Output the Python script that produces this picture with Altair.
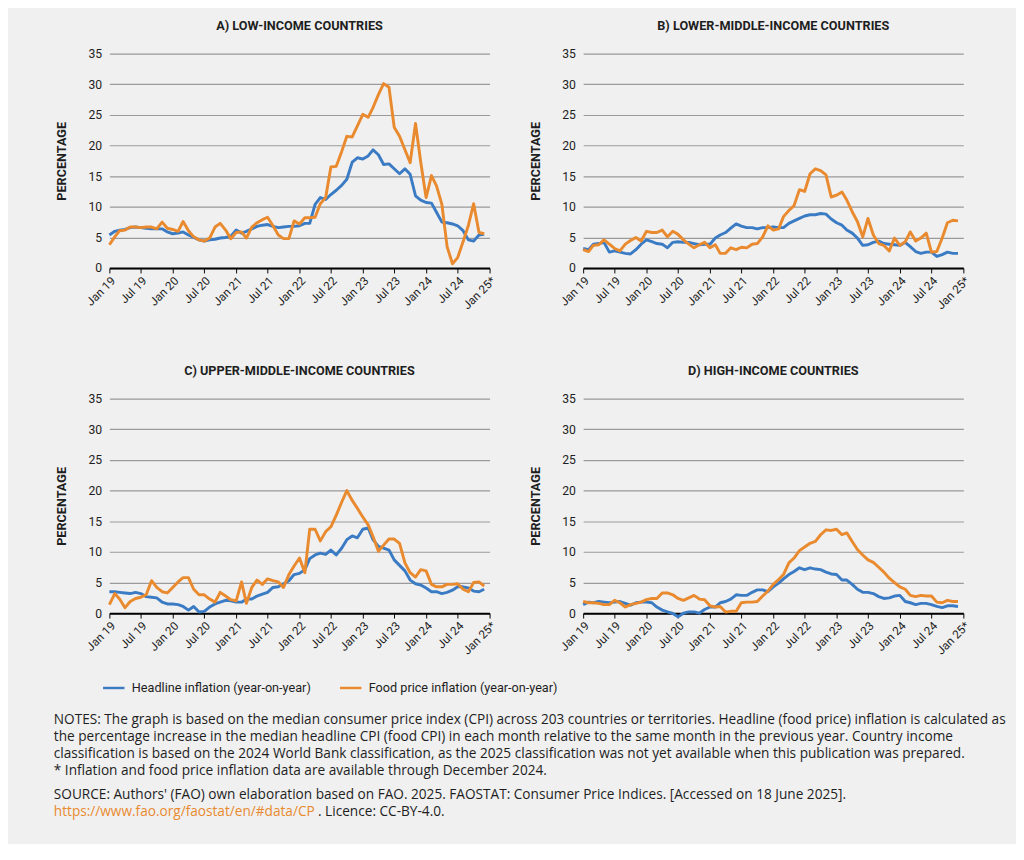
import altair as alt
import pandas as pd

# ---------------- data ----------------
months = pd.date_range("2019-01-01", "2024-12-01", freq="MS").strftime("%Y-%m-%d").tolist()

series_names = ["Headline inflation (year-on-year)", "Food price inflation (year-on-year)"]

panel_titles = [
    "A) LOW-INCOME COUNTRIES",
    "B) LOWER-MIDDLE-INCOME COUNTRIES",
    "C) UPPER-MIDDLE-INCOME COUNTRIES",
    "D) HIGH-INCOME COUNTRIES",
]

head_a = [5.4, 6.0, 6.2, 6.3, 6.6, 6.7, 6.6, 6.5, 6.4, 6.4, 6.4, 5.9,
          5.6, 5.7, 5.9, 5.4, 5.0, 4.6, 4.4, 4.6, 4.7, 4.9, 5.0, 5.2,
          6.2, 5.7, 6.0, 6.4, 6.8, 7.0, 7.1, 6.8, 6.6, 6.7, 6.8, 6.8,
          6.9, 7.3, 7.3, 10.4, 11.5, 11.2, 12.0, 12.7, 13.5, 14.5, 17.3, 18.0,
          17.8, 18.3, 19.3, 18.5, 16.9, 17.0, 16.2, 15.4, 16.2, 15.3, 11.8, 11.1,
          10.7, 10.6, 9.1, 7.5, 7.4, 7.2, 6.9, 6.1, 4.6, 4.4, 5.4, 5.5]
food_a = [3.8, 5.1, 6.1, 6.2, 6.7, 6.7, 6.6, 6.7, 6.7, 6.4, 7.5, 6.5,
          6.3, 6.0, 7.6, 6.1, 5.1, 4.6, 4.4, 4.9, 6.7, 7.3, 6.2, 4.8,
          5.8, 5.9, 4.9, 6.7, 7.4, 7.9, 8.3, 6.9, 5.4, 4.8, 4.8, 7.7,
          7.2, 8.2, 8.2, 8.3, 10.5, 11.5, 16.5, 16.6, 19.0, 21.5, 21.4, 23.2,
          25.1, 24.6, 26.2, 28.3, 30.1, 29.5, 23.0, 21.5, 19.3, 17.2, 23.6, 17.3,
          11.5, 15.1, 13.4, 10.4, 3.5, 0.7, 1.7, 4.3, 7.0, 10.5, 5.8, 5.6]

head_b = [3.2, 3.0, 3.9, 4.0, 4.2, 2.6, 2.8, 2.6, 2.4, 2.3, 3.0, 3.9,
          4.6, 4.3, 4.0, 3.9, 3.3, 4.2, 4.3, 4.2, 4.2, 4.0, 3.8, 3.9,
          3.9, 4.9, 5.4, 5.8, 6.5, 7.2, 6.85, 6.6, 6.6, 6.4, 6.6, 6.6,
          6.7, 6.6, 6.6, 7.3, 7.7, 8.1, 8.5, 8.7, 8.7, 8.9, 8.8, 8.0,
          7.4, 7.0, 6.2, 5.7, 4.9, 3.7, 3.8, 4.2, 4.4, 4.0, 3.9, 3.8,
          3.7, 4.2, 3.5, 2.7, 2.4, 2.6, 2.6, 1.9, 2.2, 2.6, 2.4, 2.4]
food_b = [3.0, 2.7, 3.7, 3.8, 4.6, 3.9, 3.2, 2.8, 3.9, 4.5, 5.0, 4.4,
          6.0, 5.8, 5.8, 6.2, 5.1, 6.0, 5.5, 4.6, 3.9, 3.3, 3.8, 4.2,
          3.3, 3.8, 2.4, 2.4, 3.3, 3.0, 3.4, 3.3, 3.9, 4.0, 5.1, 6.9,
          6.2, 6.4, 8.4, 9.4, 10.2, 12.8, 12.5, 15.4, 16.2, 15.9, 15.2, 11.6,
          11.9, 12.4, 11.1, 9.2, 7.6, 5.1, 8.1, 5.4, 4.0, 3.7, 2.8, 4.9,
          3.7, 4.3, 5.9, 4.4, 4.9, 5.7, 2.6, 2.7, 4.9, 7.4, 7.8, 7.7]

head_c = [3.5, 3.5, 3.4, 3.3, 3.2, 3.4, 3.2, 2.7, 2.6, 2.5, 1.8, 1.5,
          1.5, 1.4, 1.1, 0.5, 1.1, 0.2, 0.3, 1.0, 1.5, 1.8, 2.1, 2.0,
          1.8, 1.8, 2.3, 2.3, 2.8, 3.1, 3.4, 4.2, 4.3, 4.8, 5.3, 6.3,
          6.5, 7.1, 8.9, 9.5, 9.8, 9.6, 10.3, 9.5, 10.6, 12.0, 12.6, 12.3,
          13.7, 13.9, 12.0, 10.9, 10.6, 10.3, 8.7, 7.8, 6.9, 5.4, 4.8, 4.6,
          4.1, 3.5, 3.5, 3.2, 3.4, 3.75, 4.3, 4.3, 4.1, 3.6, 3.5, 3.9]
food_c = [1.4, 3.2, 2.3, 0.9, 1.9, 2.4, 2.6, 3.0, 5.3, 4.2, 3.5, 3.3,
          4.2, 5.1, 5.8, 5.8, 3.9, 3.0, 3.0, 2.3, 1.8, 3.4, 2.8, 2.2,
          2.0, 5.1, 1.6, 4.2, 5.4, 4.7, 5.6, 5.3, 5.1, 4.2, 6.3, 7.7,
          9.0, 6.6, 13.7, 13.7, 11.8, 13.3, 14.1, 16.0, 18.1, 20.0, 18.4, 17.1,
          15.7, 14.4, 12.5, 10.1, 11.1, 12.1, 12.1, 11.4, 8.2, 6.6, 5.9, 7.1,
          6.9, 4.7, 4.3, 4.3, 4.7, 4.7, 4.8, 3.9, 3.5, 5.0, 5.1, 4.4]

head_d = [1.4, 1.8, 1.7, 1.9, 1.8, 1.7, 1.8, 1.9, 1.6, 1.3, 1.7, 1.8,
          1.8, 1.7, 1.0, 0.5, 0.2, -0.05, -0.6, 0.0, 0.2, 0.2, 0.0, 0.6,
          1.0, 1.0, 1.7, 1.9, 2.3, 3.0, 2.9, 2.9, 3.4, 3.8, 3.8, 3.5,
          4.3, 4.9, 5.6, 6.3, 6.8, 7.4, 7.1, 7.4, 7.2, 7.1, 6.7, 6.4,
          6.3, 5.4, 5.4, 4.7, 3.9, 3.4, 3.4, 3.2, 2.7, 2.4, 2.5, 2.8,
          2.9, 1.9, 1.7, 1.4, 1.6, 1.6, 1.4, 1.1, 0.9, 1.2, 1.2, 1.1]
food_d = [1.9, 1.7, 1.7, 1.6, 1.4, 1.4, 2.1, 1.7, 1.0, 1.4, 1.6, 1.8,
          2.2, 2.4, 2.4, 3.3, 3.3, 3.0, 2.4, 2.1, 2.5, 2.9, 2.3, 2.2,
          1.2, 1.0, 1.1, 0.2, 0.3, 0.3, 1.7, 1.8, 1.8, 1.9, 2.8, 3.6,
          4.7, 5.5, 6.3, 8.2, 9.0, 10.2, 10.8, 11.4, 11.7, 12.8, 13.6, 13.5,
          13.7, 12.8, 13.1, 11.7, 10.4, 9.5, 8.7, 8.3, 7.5, 6.7, 5.7, 5.0,
          4.3, 3.9, 2.9, 2.7, 2.9, 2.8, 2.8, 1.8, 1.7, 2.1, 1.9, 1.9]

tick_years = [2019, 2019, 2020, 2020, 2021, 2021, 2022, 2022, 2023, 2023, 2024, 2024, 2025]
tick_months = [1, 7, 1, 7, 1, 7, 1, 7, 1, 7, 1, 7, 1]
y_ticks = [0, 5, 10, 15, 20, 25, 30, 35]

notes_lines = [
    "NOTES: The graph is based on the median consumer price index (CPI) across 203 countries or territories. Headline (food price) inflation is calculated as",
    "the percentage increase in the median headline CPI (food CPI) in each month relative to the same month in the previous year. Country income",
    "classification is based on the 2024 World Bank classification, as the 2025 classification was not yet available when this publication was prepared.",
    "* Inflation and food price inflation data are available through December 2024.",
]
source_line = "SOURCE: Authors' (FAO) own elaboration based on FAO. 2025. FAOSTAT: Consumer Price Indices. [Accessed on 18 June 2025]."
link_text = "https://www.fao.org/faostat/en/#data/CP"
licence_text = ". Licence: CC-BY-4.0."

# ---------------- style ----------------
BLUE = "#3a7bc4"
ORANGE = "#e98a2f"
BG = "#f0f0f0"
TXT = "#1e1e1e"
COND = "Roboto, sans-serif"
SANS = "Open Sans, Liberation Sans, sans-serif"
NOTE_SIZE = 14

PW, PH = 390, 220

tick_vals = [alt.DateTime(year=y, month=m, date=1, utc=True) for y, m in zip(tick_years, tick_months)]


def panel(title, head, food):
    df = pd.DataFrame({
        "date": months * 2,
        "series": [series_names[0]] * len(head) + [series_names[1]] * len(food),
        "value": head + food,
    })
    return alt.Chart(df).mark_line(strokeWidth=3, strokeJoin="round").encode(
        x=alt.X("date:T",
                scale=alt.Scale(type="utc",
                                domain=[alt.DateTime(year=2019, month=1, date=1, utc=True),
                                        alt.DateTime(year=2025, month=1, date=1, utc=True)]),
                axis=alt.Axis(values=tick_vals, title=None, grid=False,
                              labelExpr="utcFormat(datum.value, '%b %y') + (utcyear(datum.value) == 2025 ? '*' : '')",
                              labelAngle=315, labelFontSize=12, labelFont=COND, labelColor=TXT,
                              labelPadding=2, labelOverlap=False, labelBound=False,
                              domainColor="#000000", domainWidth=2, tickColor="#000000",
                              tickSize=5, tickWidth=1)),
        y=alt.Y("value:Q",
                scale=alt.Scale(domain=[0, 35], nice=False, zero=False),
                axis=alt.Axis(values=y_ticks, title="PERCENTAGE", titleFont=COND, titleFontSize=13,
                              titleFontWeight="bold", titleColor=TXT, titlePadding=20,
                              labelFont=COND, labelFontSize=12.5, labelColor=TXT, labelPadding=8,
                              ticks=False, domain=False, grid=True, gridColor="#9a9a9a",
                              gridWidth=1.2)),
        color=alt.Color("series:N",
                        scale=alt.Scale(domain=series_names, range=[BLUE, ORANGE]),
                        legend=alt.Legend(title=None, orient="none", legendX=-8, legendY=638,
                                          direction="horizontal", symbolType="stroke",
                                          symbolStrokeWidth=2.5, symbolSize=484,
                                          labelFont=COND, labelFontSize=13, labelColor=TXT,
                                          labelLimit=400, columnPadding=24, labelOffset=6)),
    ).properties(
        width=PW, height=PH,
        title=alt.TitleParams(title, font=COND, fontSize=13, fontWeight="bold",
                              color=TXT, offset=15, anchor="middle"),
    )


pa = panel(panel_titles[0], head_a, food_a)
pb = panel(panel_titles[1], head_b, food_b)
pc = panel(panel_titles[2], head_c, food_c)
pd_ = panel(panel_titles[3], head_d, food_d)

top = alt.hconcat(pa, pb, spacing=32)
bottom = alt.hconcat(pc, pd_, spacing=32)
panels = alt.vconcat(top, bottom, spacing=55)

# notes block
base = alt.Chart(pd.DataFrame({"k": [0]}))
NX = -57
notes_layers = []
line_y = [55, 72.5, 90, 107.5]
for txt, yy in zip(notes_lines, line_y):
    notes_layers.append(base.mark_text(align="left", baseline="middle", font=SANS, fontSize=NOTE_SIZE,
                                       color=TXT, text=txt).encode(x=alt.value(NX), y=alt.value(yy)))
notes_layers.append(base.mark_text(align="left", baseline="middle", font=SANS, fontSize=NOTE_SIZE,
                                   color=TXT, text=source_line).encode(x=alt.value(NX), y=alt.value(132)))
notes_layers.append(base.mark_text(align="left", baseline="middle", font=SANS, fontSize=NOTE_SIZE,
                                   color=ORANGE, text=link_text).encode(x=alt.value(NX), y=alt.value(149)))
notes_layers.append(base.mark_text(align="left", baseline="middle", font=SANS, fontSize=NOTE_SIZE,
                                   color=TXT, text=licence_text).encode(x=alt.value(214), y=alt.value(149)))
notes = alt.layer(*notes_layers).properties(width=850, height=163)

chart = alt.vconcat(panels, notes, spacing=10).properties(
    background=BG,
    padding={"left": 47, "top": 2, "right": 8, "bottom": 8},
).configure_view(stroke=None)

chart.save("out.html", embed_options={"renderer": "svg", "actions": False})
